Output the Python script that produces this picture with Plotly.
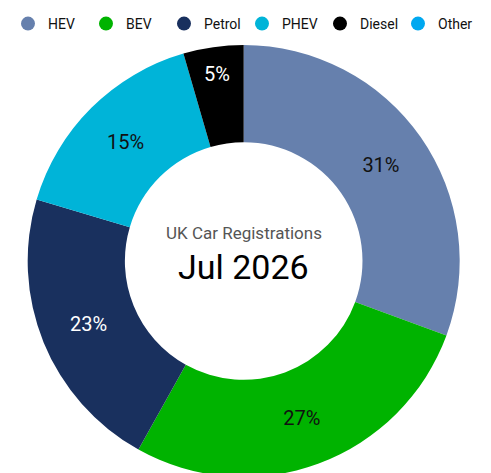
import plotly.graph_objects as go

labels = ["HEV", "BEV", "Petrol", "PHEV", "Diesel", "Other"]
values = [30.6, 27.5, 21.5, 15.9, 4.5, 0.0]
text_labels = ["31%", "27%", "23%", "15%", "5%", ""]
colors = ["#6680ad", "#00b300", "#19305e", "#00b4d8", "#000000", "#00a8f0"]
text_colors = ["#111111", "#111111", "#ffffff", "#111111", "#ffffff", "#111111"]

fig = go.Figure(go.Pie(
    labels=labels, values=values, text=text_labels,
    textinfo="text", hole=0.55, sort=False, direction="clockwise", rotation=0,
    marker=dict(colors=colors), showlegend=False,
    textfont=dict(size=20, color=text_colors, family="Roboto"),
    insidetextorientation="horizontal",
    domain=dict(x=[0.04, 0.92], y=[0, 1]),
))

# circle legend entries
for name, col in zip(labels, colors):
    fig.add_trace(go.Scatter(x=[None], y=[None], mode="markers", name=name,
                             marker=dict(symbol="circle", size=14, color=col)))

fig.add_annotation(x=0.48, y=0.565, xref="paper", yref="paper", showarrow=False,
                   text="UK Car Registrations", font=dict(size=17, color="#555555", family="Roboto"))
fig.add_annotation(x=0.48, y=0.485, xref="paper", yref="paper", showarrow=False,
                   text="Jul 2026", font=dict(size=34, color="#000000", family="Roboto"))

fig.update_layout(
    width=491, height=473,
    margin=dict(l=0, r=0, t=37, b=4),
    paper_bgcolor="white", plot_bgcolor="white",
    xaxis=dict(visible=False), yaxis=dict(visible=False),
    font=dict(family="Roboto", size=14, color="#111111"),
    legend=dict(orientation="h", xref="container", yref="container", x=0, xanchor="left",
                y=1.0, yanchor="top",
                font=dict(size=14), itemwidth=30, entrywidth=33, entrywidthmode="pixels"),
)

fig.write_html("out.html")
